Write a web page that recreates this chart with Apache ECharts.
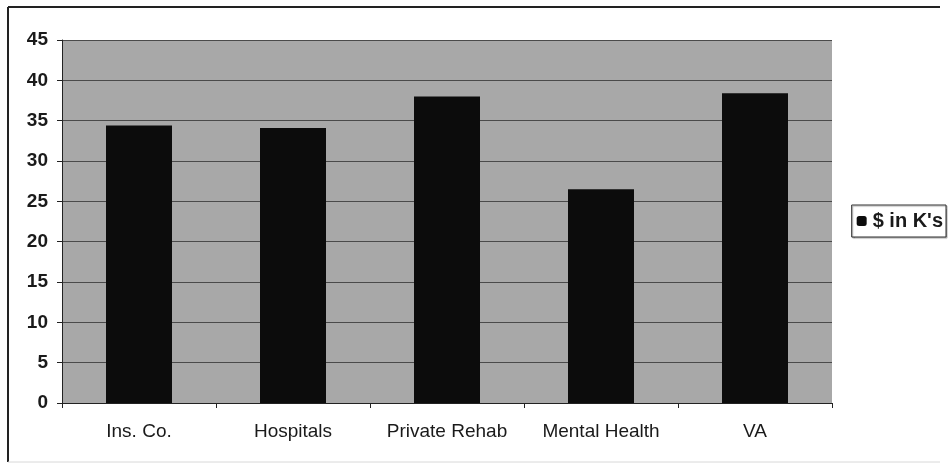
<!DOCTYPE html>
<html>
<head>
<meta charset="utf-8">
<style>
  html, body { margin: 0; padding: 0; background: #fff; }
  #chart { width: 948px; height: 464px; }
</style>
<script src="https://cdn.jsdelivr.net/npm/echarts@6/dist/echarts.min.js"></script>
</head>
<body>
<div id="chart"></div>
<script>
// Average cost by provider type, in thousands of dollars
const categories = ['Ins. Co.', 'Hospitals', 'Private Rehab', 'Mental Health', 'VA'];
const costValues = [34.4, 34.1, 38.0, 26.5, 38.4];
const seriesName = "$ in K's";
const yTicks = { min: 0, max: 45, step: 5 };

const chart = echarts.init(document.getElementById('chart'));
const font = '"Liberation Sans", Arial, sans-serif';

chart.setOption({
  animation: false,
  backgroundColor: '#ffffff',
  grid: { left: 62, right: 116, top: 40, bottom: 61, containLabel: false,
          show: true, backgroundColor: '#a8a8a8', borderWidth: 0 },
  legend: {
    data: [seriesName],
    right: 2, top: 205,
    padding: [6, 3, 6, 5],
    itemWidth: 10, itemHeight: 10, itemGap: 2,
    icon: 'roundRect',
    borderColor: '#333', borderWidth: 1, borderRadius: 0,
    backgroundColor: '#fff',
    shadowColor: 'rgba(0,0,0,0.35)', shadowOffsetX: 1, shadowOffsetY: 1, shadowBlur: 1,
    textStyle: { fontFamily: font, fontSize: 20, fontWeight: 'bold', color: '#1a1a1a', padding: [0, 0, 0, 1] }
  },
  xAxis: {
    type: 'category',
    data: categories,
    axisLine: { lineStyle: { color: '#222', width: 1 } },
    axisTick: { show: true, length: 5, lineStyle: { color: '#222' } },
    axisLabel: { interval: 0, hideOverlap: false, fontFamily: font, fontSize: 19, color: '#1a1a1a', margin: 19 },
    splitLine: { show: false }
  },
  yAxis: {
    type: 'value',
    min: yTicks.min, max: yTicks.max, interval: yTicks.step,
    axisLine: { show: true, lineStyle: { color: '#222', width: 1 } },
    axisTick: { show: true, length: 5, lineStyle: { color: '#222' } },
    axisLabel: { fontFamily: font, fontSize: 19, fontWeight: 'bold', color: '#1a1a1a', margin: 14 },
    splitLine: { show: true, lineStyle: { color: '#4a4a4a', width: 1 } }
  },
  series: [{
    name: seriesName,
    type: 'bar',
    data: costValues,
    barWidth: 66,
    itemStyle: { color: '#0c0c0c' }
  }],
  graphic: [
    { type: 'line', shape: { x1: 8, y1: 7, x2: 940, y2: 7 }, style: { stroke: '#222', lineWidth: 2 } },
    { type: 'line', shape: { x1: 8, y1: 7, x2: 8, y2: 462 }, style: { stroke: '#222', lineWidth: 2 } },
    { type: 'line', shape: { x1: 8, y1: 462, x2: 940, y2: 462 }, style: { stroke: '#d8d8d8', lineWidth: 1 } }
  ]
});
</script>
</body>
</html>
